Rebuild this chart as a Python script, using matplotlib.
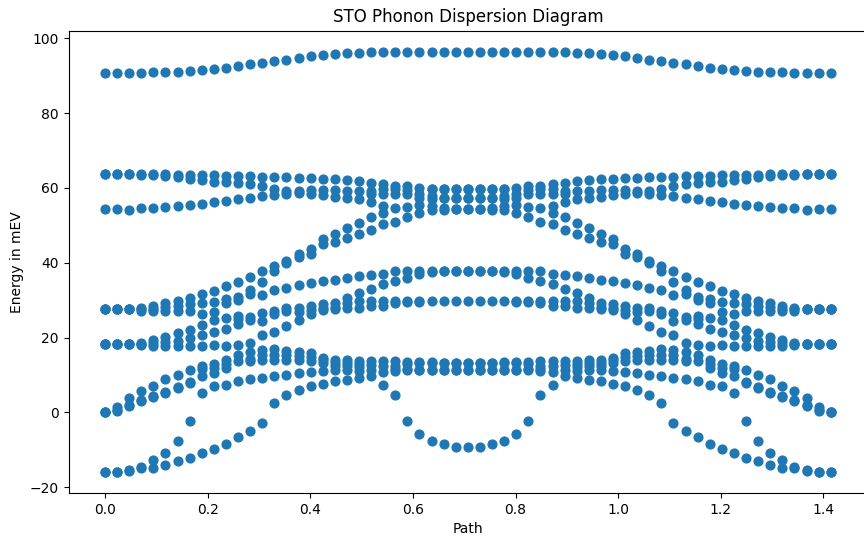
import numpy as np
import matplotlib
matplotlib.use("Agg")
import matplotlib.pyplot as plt

# 61 q-points along the path, 15 phonon branches (sorted by energy at each q), energies in meV
path = np.linspace(0.0, 1.4142, 61)

band_01 = [-16.0, -16.0, -15.8, -14.9, -14.9, -14.0, -13.1, -12.1, -11.0, -9.8, -8.4, -6.7, -5.1, -2.9, 2.6, 4.5,
           5.9, 7.0, 7.7, 8.3, 8.7, 9.2, 9.6, 7.4, 4.7, -2.4, -5.8, -7.6, -8.5, -9.2, -9.3,
           -9.2, -8.5, -7.6, -5.8, -2.4, 4.7, 7.4, 9.6, 9.2, 8.7, 8.3, 7.7, 7.0, 5.9, 4.5,
           2.6, -2.9, -5.1, -6.7, -8.4, -9.8, -11.0, -12.1, -13.1, -14.0, -14.9, -14.9, -15.8, -16.0, -16.0]
band_02 = [-16.0, -16.0, -15.4, -14.5, -12.7, -10.8, -7.7, -2.4, 5.2, 7.0, 7.2, 8.4, 8.8, 9.3, 9.7, 10.1,
           10.5, 10.9, 11.0, 11.2, 11.3, 11.0, 11.2, 10.8, 11.1, 11.2, 11.2, 11.2, 11.2, 11.2, 11.2,
           11.2, 11.2, 11.2, 11.2, 11.2, 11.1, 10.8, 11.2, 11.0, 11.3, 11.2, 11.0, 10.9, 10.5, 10.1,
           9.7, 9.3, 8.8, 8.4, 7.2, 7.0, 5.2, -2.4, -7.7, -10.8, -12.7, -14.5, -15.4, -16.0, -16.0]
band_03 = [0.0, 0.4, 1.6, 2.9, 4.1, 5.2, 6.5, 7.9, 9.6, 10.5, 11.9, 13.7, 13.7, 14.1, 14.1, 14.1,
           14.1, 13.7, 13.2, 12.3, 12.3, 12.2, 12.6, 12.3, 11.5, 11.6, 11.4, 11.4, 11.3, 11.2, 11.2,
           11.2, 11.3, 11.4, 11.4, 11.6, 11.5, 12.3, 12.6, 12.2, 12.3, 12.3, 13.2, 13.7, 14.1, 14.1,
           14.1, 14.1, 13.7, 13.7, 11.9, 10.5, 9.6, 7.9, 6.5, 5.2, 4.1, 2.9, 1.6, 0.4, 0.0]
band_04 = [0.0, 0.6, 2.0, 3.2, 4.4, 5.5, 6.8, 8.1, 11.6, 11.9, 12.8, 15.4, 14.3, 15.3, 15.4, 15.2,
           15.0, 14.8, 13.9, 13.2, 13.1, 12.9, 13.6, 13.6, 12.5, 12.9, 13.3, 13.3, 13.3, 13.3, 13.3,
           13.3, 13.3, 13.3, 13.3, 12.9, 12.5, 13.6, 13.6, 12.9, 13.1, 13.2, 13.9, 14.8, 15.0, 15.2,
           15.4, 15.3, 14.3, 15.4, 12.8, 11.9, 11.6, 8.1, 6.8, 5.5, 4.4, 3.2, 2.0, 0.6, 0.0]
band_05 = [0.0, 1.4, 3.7, 5.6, 7.1, 8.9, 10.1, 11.4, 12.5, 13.0, 14.1, 17.9, 16.2, 16.6, 16.8, 16.3,
           16.1, 15.9, 14.6, 14.0, 13.9, 13.7, 28.4, 28.4, 13.6, 13.5, 13.5, 13.4, 13.3, 13.3, 13.3,
           13.3, 13.3, 13.4, 13.5, 13.5, 13.6, 28.4, 28.4, 13.7, 13.9, 14.0, 14.6, 15.9, 16.1, 16.3,
           16.8, 16.6, 16.2, 17.9, 14.1, 13.0, 12.5, 11.4, 10.1, 8.9, 7.1, 5.6, 3.7, 1.4, 0.0]
band_06 = [18.2, 18.2, 18.2, 17.9, 17.6, 17.6, 17.6, 17.7, 17.6, 18.0, 17.7, 23.5, 18.5, 20.6, 21.6, 23.2,
           24.8, 26.2, 27.4, 27.5, 28.0, 28.0, 29.7, 29.7, 29.3, 29.5, 29.6, 29.7, 29.7, 29.7, 29.7,
           29.7, 29.7, 29.7, 29.6, 29.5, 29.3, 29.7, 29.7, 28.0, 28.0, 27.5, 27.4, 26.2, 24.8, 23.2,
           21.6, 20.6, 18.5, 23.5, 17.7, 18.0, 17.6, 17.7, 17.6, 17.6, 17.6, 17.9, 18.2, 18.2, 18.2]
band_07 = [18.2, 18.2, 18.2, 18.3, 18.5, 18.9, 19.2, 19.8, 20.8, 21.6, 22.3, 24.9, 24.6, 24.4, 26.3, 27.0,
           26.8, 27.3, 28.0, 28.2, 29.3, 29.7, 32.9, 34.2, 29.7, 29.7, 29.7, 37.6, 37.8, 37.8, 37.8,
           37.8, 37.8, 37.6, 29.7, 29.7, 29.7, 34.2, 32.9, 29.7, 29.3, 28.2, 28.0, 27.3, 26.8, 27.0,
           26.3, 24.4, 24.6, 24.9, 22.3, 21.6, 20.8, 19.8, 19.2, 18.9, 18.5, 18.3, 18.2, 18.2, 18.2]
band_08 = [18.2, 18.2, 18.3, 18.6, 19.4, 20.1, 21.1, 22.1, 23.3, 24.8, 25.3, 25.8, 25.4, 26.6, 27.1, 27.9,
           28.0, 28.4, 29.0, 29.3, 30.6, 32.0, 36.7, 36.9, 35.1, 36.0, 36.9, 37.8, 37.8, 37.8, 37.8,
           37.8, 37.8, 37.8, 36.9, 36.0, 35.1, 36.9, 36.7, 32.0, 30.6, 29.3, 29.0, 28.4, 28.0, 27.9,
           27.1, 26.6, 25.4, 25.8, 25.3, 24.8, 23.3, 22.1, 21.1, 20.1, 19.4, 18.6, 18.3, 18.2, 18.2]
band_09 = [27.6, 27.6, 27.6, 27.2, 27.1, 27.1, 27.1, 27.1, 26.4, 26.8, 29.3, 30.0, 31.6, 31.4, 32.8, 33.2,
           34.0, 34.6, 35.2, 35.5, 35.8, 36.4, 48.8, 50.3, 37.8, 37.8, 37.8, 54.0, 54.2, 54.3, 54.3,
           54.3, 54.2, 54.0, 37.8, 37.8, 37.8, 50.3, 48.8, 36.4, 35.8, 35.5, 35.2, 34.6, 34.0, 33.2,
           32.8, 31.4, 31.6, 30.0, 29.3, 26.8, 26.4, 27.1, 27.1, 27.1, 27.1, 27.2, 27.6, 27.6, 27.6]
band_10 = [27.6, 27.6, 27.6, 27.6, 27.7, 28.1, 28.5, 28.9, 29.3, 29.6, 30.2, 30.7, 32.8, 34.9, 37.8, 40.0,
           41.4, 42.2, 44.9, 45.6, 46.6, 47.8, 52.1, 53.4, 51.0, 52.1, 53.4, 55.2, 54.6, 54.3, 54.3,
           54.3, 54.6, 55.2, 53.4, 52.1, 51.0, 53.4, 52.1, 47.8, 46.6, 45.6, 44.9, 42.2, 41.4, 40.0,
           37.8, 34.9, 32.8, 30.7, 30.2, 29.6, 29.3, 28.9, 28.5, 28.1, 27.7, 27.6, 27.6, 27.6, 27.6]
band_11 = [27.6, 27.6, 27.7, 28.0, 28.4, 29.3, 29.8, 30.6, 31.7, 32.4, 33.9, 34.9, 36.2, 37.7, 39.0, 40.4,
           42.2, 43.6, 46.3, 47.8, 49.4, 50.7, 56.1, 55.2, 54.5, 55.0, 55.5, 57.0, 57.4, 57.4, 57.4,
           57.4, 57.4, 57.0, 55.5, 55.0, 54.5, 55.2, 56.1, 50.7, 49.4, 47.8, 46.3, 43.6, 42.2, 40.4,
           39.0, 37.7, 36.2, 34.9, 33.9, 32.4, 31.7, 30.6, 29.8, 29.3, 28.4, 28.0, 27.7, 27.6, 27.6]
band_12 = [54.3, 54.3, 54.2, 54.5, 54.7, 55.0, 55.2, 55.4, 55.6, 56.1, 56.6, 57.0, 57.2, 57.8, 58.2, 58.5,
           58.6, 58.3, 58.0, 57.6, 57.2, 56.9, 58.5, 58.3, 58.3, 58.3, 57.4, 57.9, 57.4, 57.4, 57.4,
           57.4, 57.4, 57.9, 57.4, 58.3, 58.3, 58.3, 58.5, 56.9, 57.2, 57.6, 58.0, 58.3, 58.6, 58.5,
           58.2, 57.8, 57.2, 57.0, 56.6, 56.1, 55.6, 55.4, 55.2, 55.0, 54.7, 54.5, 54.2, 54.3, 54.3]
band_13 = [63.6, 63.6, 63.6, 63.5, 63.4, 63.2, 63.0, 62.5, 62.1, 61.6, 61.5, 61.3, 61.0, 60.4, 59.7, 59.2,
           59.2, 59.4, 59.4, 59.5, 59.3, 59.2, 59.2, 59.6, 59.6, 59.5, 58.3, 59.6, 59.7, 59.7, 59.7,
           59.7, 59.7, 59.6, 58.3, 59.5, 59.6, 59.6, 59.2, 59.2, 59.3, 59.5, 59.4, 59.4, 59.2, 59.2,
           59.7, 60.4, 61.0, 61.3, 61.5, 61.6, 62.1, 62.5, 63.0, 63.2, 63.4, 63.5, 63.6, 63.6, 63.6]
band_14 = [63.6, 63.6, 63.6, 63.6, 63.6, 63.6, 63.5, 63.5, 63.5, 63.4, 63.2, 63.1, 63.1, 63.0, 63.0, 62.8,
           62.7, 62.6, 62.5, 62.3, 62.1, 61.8, 61.4, 61.0, 60.6, 60.4, 60.1, 59.8, 59.7, 59.7, 59.7,
           59.7, 59.7, 59.8, 60.1, 60.4, 60.6, 61.0, 61.4, 61.8, 62.1, 62.3, 62.5, 62.6, 62.7, 62.8,
           63.0, 63.0, 63.1, 63.1, 63.2, 63.4, 63.5, 63.5, 63.5, 63.6, 63.6, 63.6, 63.6, 63.6, 63.6]
band_15 = [90.7, 90.7, 90.7, 90.8, 90.9, 91.0, 91.1, 91.3, 91.5, 91.7, 92.0, 92.5, 93.0, 93.5, 94.0, 94.3,
           94.7, 95.3, 95.5, 95.8, 96.1, 96.1, 96.3, 96.3, 96.3, 96.4, 96.4, 96.4, 96.4, 96.4, 96.4,
           96.4, 96.4, 96.4, 96.4, 96.4, 96.3, 96.3, 96.3, 96.1, 96.1, 95.8, 95.5, 95.3, 94.7, 94.3,
           94.0, 93.5, 93.0, 92.5, 92.0, 91.7, 91.5, 91.3, 91.1, 91.0, 90.9, 90.8, 90.7, 90.7, 90.7]

bands = [band_01, band_02, band_03, band_04, band_05, band_06, band_07, band_08,
         band_09, band_10, band_11, band_12, band_13, band_14, band_15]

fig = plt.figure(figsize=(8.64, 5.39), dpi=100)
ax = fig.add_axes([0.0795, 0.085, 0.924, 0.858])

for band in bands:
    ax.scatter(path, band, s=40, color="#1f77b4")

ax.set_title("STO Phonon Dispersion Diagram")
ax.set_xlabel("Path")
ax.set_ylabel("Energy in mEV")

fig.savefig("out.png", dpi=100)
plt.close(fig)
